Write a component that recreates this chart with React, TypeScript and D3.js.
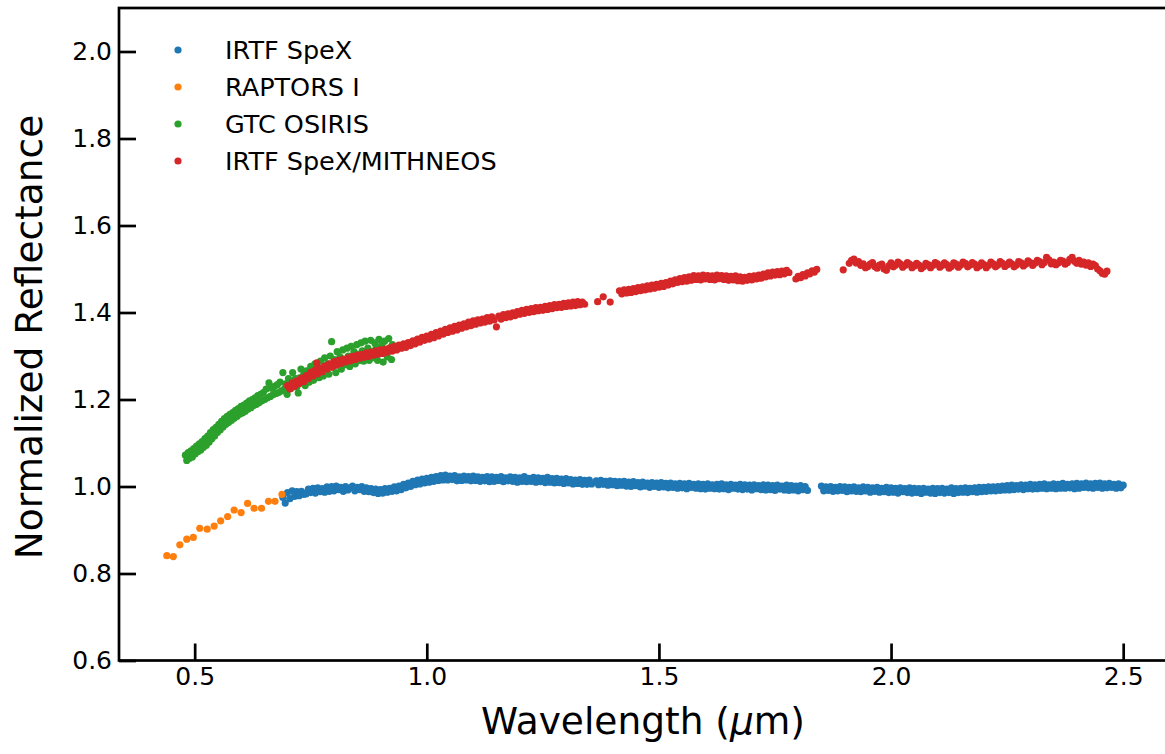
import React, { useEffect, useRef } from 'react';
import * as d3 from 'd3';

// wavelength (um), normalized reflectance
const irtfSpex: [number, number][] = [
  [0.690,0.975],[0.695,0.962],[0.700,0.986],[0.705,0.972],[0.710,0.990],[0.715,0.977],[0.720,0.988],[0.725,0.979],[0.730,0.989],[0.735,0.982],
  [0.740,0.983],[0.745,0.994],[0.750,0.986],[0.755,0.996],[0.760,0.985],[0.765,0.997],[0.770,0.988],[0.775,0.995],[0.780,0.987],[0.785,0.999],
  [0.790,0.989],[0.795,1.000],[0.800,0.990],[0.805,1.001],[0.810,0.993],[0.815,0.998],[0.820,0.989],[0.825,1.000],[0.830,0.992],[0.835,0.997],
  [0.840,1.001],[0.845,0.990],[0.850,0.998],[0.855,0.993],[0.860,1.000],[0.865,0.989],[0.870,0.997],[0.875,0.988],[0.880,0.995],[0.885,0.986],
  [0.890,0.994],[0.895,0.984],[0.900,0.993],[0.905,0.985],[0.910,0.995],[0.915,0.987],[0.920,0.996],[0.925,0.989],[0.930,0.999],[0.935,0.990],
  [0.940,1.001],[0.945,0.993],[0.950,1.005],[0.955,0.997],[0.960,1.008],[0.965,1.000],[0.970,1.012],[0.975,1.004],[0.980,1.015],[0.985,1.006],
  [0.990,1.017],[0.995,1.008],[1.000,1.019],[1.005,1.010],[1.010,1.021],[1.015,1.012],[1.020,1.023],[1.025,1.014],[1.030,1.025],[1.035,1.015],
  [1.040,1.026],[1.045,1.015],[1.050,1.024],[1.055,1.016],[1.060,1.025],[1.065,1.013],[1.070,1.022],[1.075,1.014],[1.080,1.024],[1.085,1.015],
  [1.090,1.023],[1.095,1.013],[1.100,1.024],[1.105,1.014],[1.110,1.022],[1.115,1.012],[1.120,1.021],[1.125,1.013],[1.130,1.023],[1.135,1.011],
  [1.140,1.022],[1.145,1.012],[1.150,1.021],[1.155,1.014],[1.160,1.023],[1.165,1.011],[1.170,1.020],[1.175,1.013],[1.180,1.022],[1.185,1.012],
  [1.190,1.021],[1.195,1.010],[1.200,1.020],[1.205,1.012],[1.210,1.023],[1.215,1.011],[1.220,1.019],[1.225,1.012],[1.230,1.021],[1.235,1.010],
  [1.240,1.020],[1.245,1.011],[1.250,1.019],[1.255,1.009],[1.260,1.021],[1.265,1.010],[1.270,1.018],[1.275,1.008],[1.280,1.019],[1.285,1.009],
  [1.290,1.017],[1.295,1.007],[1.300,1.018],[1.305,1.008],[1.310,1.016],[1.315,1.006],[1.320,1.015],[1.325,1.007],[1.330,1.016],[1.335,1.005],
  [1.340,1.014],[1.345,1.005],[1.350,1.015],[1.355,1.006],[1.365,1.013],[1.370,1.004],[1.375,1.014],[1.380,1.005],[1.385,1.012],
  [1.390,1.003],[1.395,1.013],[1.400,1.004],[1.405,1.012],[1.410,1.002],[1.415,1.011],[1.420,1.003],[1.425,1.012],[1.430,1.001],[1.435,1.010],
  [1.440,1.000],[1.445,1.011],[1.450,1.002],[1.455,1.009],[1.460,0.999],[1.465,1.010],[1.470,1.001],[1.475,1.008],[1.480,0.998],[1.485,1.009],
  [1.490,1.000],[1.495,1.008],[1.500,0.998],[1.505,1.009],[1.510,0.999],[1.515,1.007],[1.520,0.997],[1.525,1.008],[1.530,0.998],[1.535,1.006],
  [1.540,0.996],[1.545,1.007],[1.550,0.997],[1.555,1.006],[1.560,0.995],[1.565,1.007],[1.570,0.998],[1.575,1.005],[1.580,0.996],[1.585,1.006],
  [1.590,0.995],[1.595,1.005],[1.600,0.994],[1.605,1.006],[1.610,0.996],[1.615,1.004],[1.620,0.995],[1.625,1.005],[1.630,0.994],[1.635,1.006],
  [1.640,0.995],[1.645,1.004],[1.650,0.993],[1.655,1.005],[1.660,0.996],[1.665,1.003],[1.670,0.994],[1.675,1.005],[1.680,0.993],[1.685,1.004],
  [1.690,0.994],[1.695,1.003],[1.700,0.992],[1.705,1.004],[1.710,0.995],[1.715,1.002],[1.720,0.993],[1.725,1.004],[1.730,0.992],[1.735,1.003],
  [1.740,0.993],[1.745,1.002],[1.750,0.991],[1.755,1.003],[1.760,0.994],[1.765,1.001],[1.770,0.992],[1.775,1.003],[1.780,0.991],[1.785,1.002],
  [1.790,0.992],[1.795,1.001],[1.800,0.990],[1.805,1.002],[1.810,0.993],[1.815,1.000],[1.820,0.991],
  [1.850,1.001],[1.855,0.990],[1.860,0.999],[1.865,0.991],[1.870,1.000],[1.875,0.989],[1.880,0.998],[1.885,0.990],[1.890,1.000],[1.895,0.991],
  [1.900,0.999],[1.905,0.988],[1.910,0.998],[1.915,0.990],[1.920,0.999],[1.925,0.989],[1.930,0.997],[1.935,0.988],[1.940,0.999],[1.945,0.990],
  [1.950,0.998],[1.955,0.987],[1.960,0.997],[1.965,0.989],[1.970,0.998],[1.975,0.987],[1.980,0.996],[1.985,0.988],[1.990,0.998],[1.995,0.986],
  [2.000,0.997],[2.005,0.987],[2.010,0.996],[2.015,0.985],[2.020,0.997],[2.025,0.988],[2.030,0.995],[2.035,0.986],[2.040,0.997],[2.045,0.985],
  [2.050,0.996],[2.055,0.986],[2.060,0.995],[2.065,0.984],[2.070,0.996],[2.075,0.987],[2.080,0.994],[2.085,0.985],[2.090,0.996],[2.095,0.984],
  [2.100,0.995],[2.105,0.986],[2.110,0.996],[2.115,0.985],[2.120,0.994],[2.125,0.986],[2.130,0.997],[2.135,0.984],[2.140,0.995],[2.145,0.986],
  [2.150,0.996],[2.155,0.987],[2.160,0.997],[2.165,0.986],[2.170,0.996],[2.175,0.988],[2.180,0.997],[2.185,0.987],[2.190,0.998],[2.195,0.988],
  [2.200,0.998],[2.205,0.989],[2.210,0.999],[2.215,0.990],[2.220,0.999],[2.225,0.990],[2.230,1.000],[2.235,0.991],[2.240,1.001],[2.245,0.992],
  [2.250,1.002],[2.255,0.992],[2.260,1.003],[2.265,0.993],[2.270,1.002],[2.275,0.994],[2.280,1.004],[2.285,0.993],[2.290,1.003],[2.295,0.995],
  [2.300,1.005],[2.305,0.994],[2.310,1.004],[2.315,0.995],[2.320,1.005],[2.325,0.996],[2.330,1.006],[2.335,0.995],[2.340,1.004],[2.345,0.996],
  [2.350,1.006],[2.355,0.995],[2.360,1.005],[2.365,0.996],[2.370,1.007],[2.375,0.996],[2.380,1.005],[2.385,0.997],[2.390,1.006],[2.395,0.995],
  [2.400,1.007],[2.405,0.996],[2.410,1.006],[2.415,0.998],[2.420,1.008],[2.425,0.997],[2.430,1.006],[2.435,0.996],[2.440,1.007],[2.445,0.998],
  [2.450,1.008],[2.455,0.996],[2.460,1.006],[2.465,0.997],[2.470,1.007],[2.475,0.998],[2.480,1.005],[2.485,0.996],[2.490,1.006],[2.495,0.997],
  [2.500,1.003],
];

const raptors: [number, number][] = [
  [0.440,0.841],[0.454,0.839],[0.468,0.866],[0.483,0.879],[0.497,0.883],[0.511,0.904],[0.527,0.902],[0.542,0.909],
  [0.556,0.921],[0.571,0.931],[0.585,0.946],[0.600,0.940],[0.614,0.961],[0.628,0.950],[0.644,0.950],[0.659,0.966],
  [0.673,0.966],[0.688,0.982],
];

const gtcOsiris: [number, number][] = [
  [0.480,1.072],[0.483,1.060],[0.486,1.078],[0.489,1.065],[0.492,1.082],[0.495,1.068],[0.498,1.087],[0.501,1.075],[0.504,1.093],[0.507,1.080],
  [0.510,1.098],[0.513,1.084],[0.516,1.103],[0.519,1.090],[0.522,1.110],[0.525,1.095],[0.528,1.116],[0.531,1.102],[0.534,1.124],[0.537,1.110],
  [0.540,1.131],[0.543,1.116],[0.546,1.136],[0.549,1.124],[0.552,1.143],[0.555,1.130],[0.558,1.150],[0.561,1.137],[0.564,1.156],[0.567,1.143],
  [0.570,1.161],[0.573,1.147],[0.576,1.166],[0.579,1.152],[0.582,1.170],[0.585,1.157],[0.588,1.175],[0.591,1.161],[0.594,1.179],[0.597,1.166],
  [0.600,1.184],[0.603,1.169],[0.606,1.187],[0.609,1.173],[0.612,1.192],[0.615,1.178],[0.618,1.197],[0.621,1.181],[0.624,1.200],[0.627,1.186],
  [0.630,1.204],[0.633,1.189],[0.636,1.209],[0.639,1.193],[0.642,1.212],[0.645,1.197],[0.648,1.216],[0.651,1.200],[0.654,1.224],[0.657,1.204],
  [0.660,1.238],[0.663,1.207],[0.666,1.226],[0.669,1.211],[0.672,1.230],[0.675,1.214],[0.678,1.234],[0.681,1.216],[0.684,1.240],[0.687,1.220],
  [0.690,1.262],[0.693,1.224],[0.696,1.236],[0.699,1.212],[0.702,1.248],[0.705,1.237],[0.708,1.226],[0.711,1.262],[0.714,1.236],[0.717,1.248],
  [0.720,1.229],[0.723,1.215],[0.726,1.250],[0.729,1.270],[0.732,1.244],[0.735,1.258],[0.738,1.232],[0.741,1.266],[0.744,1.250],[0.747,1.240],
  [0.750,1.276],[0.753,1.256],[0.756,1.244],[0.759,1.282],[0.762,1.262],[0.765,1.270],[0.768,1.250],[0.771,1.288],[0.774,1.266],[0.777,1.254],
  [0.780,1.296],[0.783,1.272],[0.786,1.282],[0.789,1.258],[0.792,1.300],[0.795,1.333],[0.798,1.276],[0.801,1.292],[0.804,1.262],[0.807,1.310],
  [0.810,1.286],[0.813,1.298],[0.816,1.270],[0.819,1.314],[0.822,1.292],[0.825,1.280],[0.828,1.318],[0.831,1.300],[0.834,1.276],[0.837,1.322],
  [0.840,1.296],[0.843,1.310],[0.846,1.282],[0.849,1.326],[0.852,1.304],[0.855,1.290],[0.858,1.330],[0.861,1.312],[0.864,1.288],[0.867,1.334],
  [0.870,1.302],[0.873,1.318],[0.876,1.290],[0.879,1.336],[0.882,1.310],[0.885,1.296],[0.888,1.330],[0.891,1.320],[0.894,1.290],[0.897,1.338],
  [0.900,1.306],[0.903,1.326],[0.906,1.286],[0.909,1.334],[0.912,1.314],[0.915,1.298],[0.918,1.340],[0.921,1.318],[0.924,1.292],[0.926,1.326],
];

const mithneos: [number, number][] = [
  [0.700,1.232],[0.705,1.224],[0.710,1.238],[0.715,1.230],[0.720,1.243],[0.725,1.236],[0.730,1.249],[0.735,1.241],[0.740,1.255],[0.745,1.248],
  [0.750,1.263],[0.755,1.254],[0.760,1.268],[0.763,1.284],[0.765,1.259],[0.770,1.272],[0.775,1.264],[0.780,1.277],[0.785,1.270],[0.790,1.282],[0.795,1.274],
  [0.800,1.287],[0.805,1.279],[0.810,1.290],[0.815,1.283],[0.820,1.293],[0.825,1.286],[0.830,1.296],[0.835,1.289],[0.840,1.299],[0.845,1.292],
  [0.850,1.302],[0.855,1.295],[0.860,1.304],[0.865,1.297],[0.870,1.307],[0.875,1.299],[0.880,1.309],[0.885,1.302],[0.890,1.312],[0.895,1.304],
  [0.900,1.314],[0.905,1.306],[0.910,1.316],[0.915,1.309],[0.920,1.319],[0.925,1.311],[0.930,1.322],[0.935,1.314],[0.940,1.325],[0.945,1.318],
  [0.950,1.328],[0.955,1.320],[0.960,1.331],[0.965,1.324],[0.970,1.335],[0.975,1.328],[0.980,1.339],[0.985,1.332],[0.990,1.343],[0.995,1.336],
  [1.000,1.346],[1.005,1.339],[1.010,1.350],[1.015,1.342],[1.020,1.354],[1.025,1.346],[1.030,1.357],[1.035,1.350],[1.040,1.361],[1.045,1.354],
  [1.050,1.365],[1.055,1.357],[1.060,1.368],[1.065,1.360],[1.070,1.371],[1.075,1.364],[1.080,1.374],[1.085,1.367],[1.090,1.378],[1.095,1.370],
  [1.100,1.381],[1.105,1.373],[1.110,1.383],[1.115,1.376],[1.120,1.385],[1.125,1.378],[1.130,1.388],[1.135,1.380],[1.140,1.390],[1.145,1.383],[1.150,1.367],
  [1.155,1.392],[1.160,1.385],[1.165,1.395],[1.170,1.388],[1.175,1.397],[1.180,1.390],[1.185,1.399],[1.190,1.393],[1.195,1.402],
  [1.200,1.396],[1.205,1.405],[1.210,1.398],[1.215,1.407],[1.220,1.400],[1.225,1.409],[1.230,1.402],[1.235,1.411],[1.240,1.404],[1.245,1.412],
  [1.250,1.405],[1.255,1.414],[1.260,1.407],[1.265,1.416],[1.270,1.409],[1.275,1.418],[1.280,1.411],[1.285,1.419],[1.290,1.412],[1.295,1.421],
  [1.300,1.414],[1.305,1.422],[1.310,1.415],[1.315,1.424],[1.320,1.416],[1.325,1.425],[1.330,1.418],[1.335,1.424],[1.340,1.419],
  [1.368,1.425],[1.380,1.436],[1.395,1.424],
  [1.415,1.450],[1.420,1.443],[1.425,1.452],[1.430,1.445],[1.435,1.453],[1.440,1.446],[1.445,1.455],[1.450,1.448],[1.455,1.457],[1.460,1.450],
  [1.465,1.459],[1.470,1.452],[1.475,1.461],[1.480,1.454],[1.485,1.463],[1.490,1.456],[1.495,1.465],[1.500,1.458],[1.505,1.467],[1.510,1.460],
  [1.515,1.469],[1.520,1.463],[1.525,1.472],[1.530,1.466],[1.535,1.475],[1.540,1.469],[1.545,1.478],[1.550,1.471],[1.555,1.480],[1.560,1.472],
  [1.565,1.482],[1.570,1.474],[1.575,1.485],[1.580,1.476],[1.585,1.484],[1.590,1.475],[1.595,1.486],[1.600,1.477],[1.605,1.485],[1.610,1.476],
  [1.615,1.484],[1.620,1.475],[1.625,1.486],[1.630,1.478],[1.635,1.485],[1.640,1.476],[1.645,1.484],[1.650,1.474],[1.655,1.483],[1.660,1.475],
  [1.665,1.484],[1.670,1.473],[1.675,1.482],[1.680,1.472],[1.685,1.481],[1.690,1.474],[1.695,1.483],[1.700,1.475],[1.705,1.484],[1.710,1.477],
  [1.715,1.486],[1.720,1.479],[1.725,1.488],[1.730,1.482],[1.735,1.491],[1.740,1.484],[1.745,1.493],[1.750,1.486],[1.755,1.494],[1.760,1.487],
  [1.765,1.495],[1.770,1.489],[1.775,1.497],[1.780,1.492],
  [1.795,1.477],[1.800,1.483],[1.805,1.480],[1.810,1.487],[1.815,1.484],[1.820,1.491],[1.825,1.489],[1.830,1.496],[1.835,1.493],[1.840,1.499],
  [1.897,1.498],
  [1.910,1.513],[1.915,1.520],[1.920,1.523],[1.925,1.514],[1.930,1.517],[1.935,1.508],[1.940,1.512],[1.945,1.503],[1.950,1.506],[1.955,1.511],
  [1.960,1.515],[1.965,1.506],[1.970,1.502],[1.975,1.509],[1.980,1.511],[1.985,1.500],[1.990,1.497],[1.995,1.507],[2.000,1.514],[2.005,1.505],
  [2.010,1.509],[2.015,1.516],[2.020,1.512],[2.025,1.504],[2.030,1.508],[2.035,1.515],[2.040,1.511],[2.045,1.503],[2.050,1.507],[2.055,1.513],
  [2.060,1.509],[2.065,1.501],[2.070,1.505],[2.075,1.513],[2.080,1.510],[2.085,1.503],[2.090,1.508],[2.095,1.515],[2.100,1.512],[2.105,1.504],
  [2.110,1.508],[2.115,1.514],[2.120,1.510],[2.125,1.502],[2.130,1.506],[2.135,1.514],[2.140,1.511],[2.145,1.504],[2.150,1.509],[2.155,1.516],
  [2.160,1.513],[2.165,1.505],[2.170,1.509],[2.175,1.515],[2.180,1.511],[2.185,1.503],[2.190,1.507],[2.195,1.514],[2.200,1.510],[2.205,1.503],
  [2.210,1.508],[2.215,1.516],[2.220,1.512],[2.225,1.505],[2.230,1.509],[2.235,1.517],[2.240,1.513],[2.245,1.506],[2.250,1.510],[2.255,1.516],
  [2.260,1.512],[2.265,1.505],[2.270,1.509],[2.275,1.517],[2.280,1.514],[2.285,1.507],[2.290,1.511],[2.295,1.519],[2.300,1.515],[2.305,1.508],
  [2.310,1.513],[2.315,1.520],[2.320,1.517],[2.325,1.510],[2.330,1.515],[2.335,1.527],[2.340,1.521],[2.345,1.512],[2.350,1.516],[2.355,1.510],
  [2.360,1.514],[2.365,1.520],[2.370,1.518],[2.375,1.511],[2.380,1.515],[2.385,1.522],[2.390,1.527],[2.395,1.518],[2.400,1.513],[2.405,1.520],
  [2.410,1.511],[2.415,1.516],[2.420,1.509],[2.425,1.514],[2.430,1.506],[2.435,1.511],[2.440,1.508],[2.445,1.500],[2.450,1.496],[2.455,1.490],
  [2.460,1.488],[2.465,1.495],
];

const seriesNames = ['IRTF SpeX', 'RAPTORS I', 'GTC OSIRIS', 'IRTF SpeX/MITHNEOS'];
const seriesColors = ['#1f77b4', '#ff7f0e', '#2ca02c', '#d62728'];
const seriesData = [irtfSpex, raptors, gtcOsiris, mithneos];

const xTicks = [0.5, 1.0, 1.5, 2.0, 2.5];
const yTicks = [0.6, 0.8, 1.0, 1.2, 1.4, 1.6, 1.8, 2.0];

const App = () => {
  const ref = useRef<SVGSVGElement>(null);

  useEffect(() => {
    const svgWidth = 1165, svgHeight = 754;
    const left = 119, right = 1171, top = 8, bottom = 660.5;
    const font = 'DejaVu Sans, sans-serif';

    const svg = d3.select(ref.current);
    svg.selectAll('*').remove();
    svg.attr('width', svgWidth).attr('height', svgHeight);

    const x = d3.scaleLinear().domain([0.337, 2.603]).range([left, right]);
    const y = d3.scaleLinear().domain([0.6, 2.1]).range([bottom, top]);

    // points
    seriesData.forEach((data, i) => {
      svg.append('g')
        .selectAll('circle')
        .data(data)
        .enter().append('circle')
        .attr('cx', d => x(d[0]))
        .attr('cy', d => y(d[1]))
        .attr('r', 3.6)
        .attr('fill', seriesColors[i]);
    });

    // axes, ticks pointing inward
    const xAxis = svg.append('g')
      .attr('transform', `translate(0,${bottom})`)
      .call(d3.axisBottom(x).tickValues(xTicks).tickFormat(d3.format('.1f')).tickSize(-17).tickPadding(7));
    const yAxis = svg.append('g')
      .attr('transform', `translate(${left},0)`)
      .call(d3.axisLeft(y).tickValues(yTicks).tickFormat(d3.format('.1f')).tickSize(-17).tickPadding(7));

    [xAxis, yAxis].forEach(ax => {
      ax.select('.domain').remove();
      ax.selectAll('line').attr('stroke', '#000').attr('stroke-width', 2.7);
      ax.selectAll('text')
        .attr('fill', '#000')
        .style('font-family', font)
        .style('font-size', '25px');
    });

    // spines
    svg.append('rect')
      .attr('x', left).attr('y', top)
      .attr('width', right - left).attr('height', bottom - top)
      .attr('fill', 'none').attr('stroke', '#000').attr('stroke-width', 2.7);

    // axis labels
    const xl = svg.append('text')
      .attr('x', 643).attr('y', 734)
      .attr('text-anchor', 'middle')
      .style('font-family', font).style('font-size', '37.5px')
      .text('Wavelength (');
    xl.append('tspan').style('font-style', 'italic').text('μ');
    xl.append('tspan').text('m)');

    svg.append('text')
      .attr('transform', `translate(42,337) rotate(-90)`)
      .attr('text-anchor', 'middle')
      .style('font-family', font).style('font-size', '37.5px')
      .text('Normalized Reflectance');

    // legend
    const legend = svg.append('g');
    seriesNames.forEach((name, i) => {
      const ly = 50 + i * 37;
      legend.append('circle').attr('cx', 178).attr('cy', ly).attr('r', 3.6).attr('fill', seriesColors[i]);
      legend.append('text')
        .attr('x', 225).attr('y', ly).attr('dy', '0.36em')
        .style('font-family', font).style('font-size', '25.5px')
        .text(name);
    });
  }, []);

  return (
    <svg ref={ref} style={{ position: 'absolute', left: 0, top: 0, background: '#fff' }} />
  );
};

export default App;
